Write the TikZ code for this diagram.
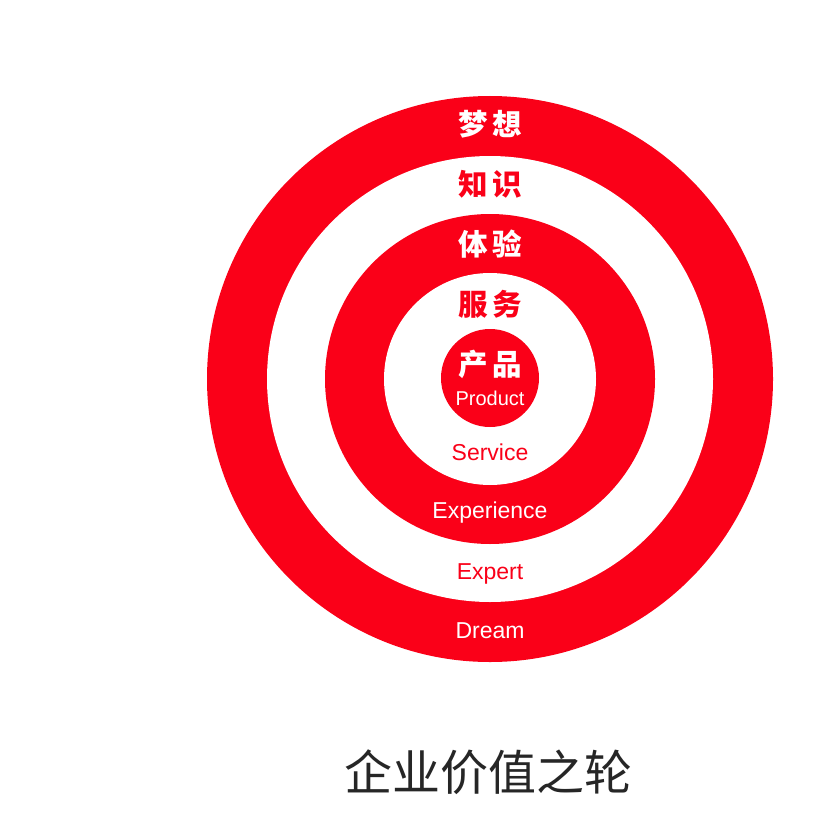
\documentclass[tikz,border=0pt]{standalone}
\usepackage{fontspec}
\setmainfont{Liberation Sans}
\newfontfamily\cjk{Noto Sans CJK SC}
\definecolor{wheelred}{RGB}{250,0,24}
\begin{document}
\begin{tikzpicture}[x=1pt,y=-1pt,
  ring/.style={circle,inner sep=0pt,minimum size=#1},
  zh/.style={font=\cjk\bfseries\fontsize{29.5}{30}\selectfont,inner sep=0pt},
  en/.style={font=\fontsize{23}{23}\selectfont,inner sep=0pt}]
\useasboundingbox[fill=white] (0,0) rectangle (840,840);
\node[ring=566pt,fill=wheelred] (r1) at (490,379) {};
\node[ring=446pt,fill=white] (r2) at (490,379) {};
\node[ring=330pt,fill=wheelred] (r3) at (490,379) {};
\node[ring=212pt,fill=white] (r4) at (490,379) {};
\node[ring=98pt,fill=wheelred] (r5) at (490,378) {};
\node[zh,text=white] (t1) at (490,124) {梦\hspace{5pt}想};
\node[zh,text=wheelred] (t2) at (490,184) {知\hspace{5pt}识};
\node[zh,text=white] (t3) at (490,244) {体\hspace{5pt}验};
\node[zh,text=wheelred] (t4) at (490,304) {服\hspace{5pt}务};
\node[zh,text=white] (t5) at (490,364) {产\hspace{5pt}品};
\node[en,text=white,font=\fontsize{20}{20}\selectfont] (e5) at (490,398) {Product};
\node[en,text=wheelred] (e4) at (490,452) {Service};
\node[en,text=white] (e3) at (490,513) {Experience};
\node[en,text=wheelred] (e2) at (490,574) {Expert};
\node[en,text=white] (e1) at (490,631) {Dream};
\node[font=\cjk\fontsize{48}{48}\selectfont,text=black!85,inner sep=0pt] (title) at (488,772) {企业价值之轮};
\end{tikzpicture}
\end{document}
